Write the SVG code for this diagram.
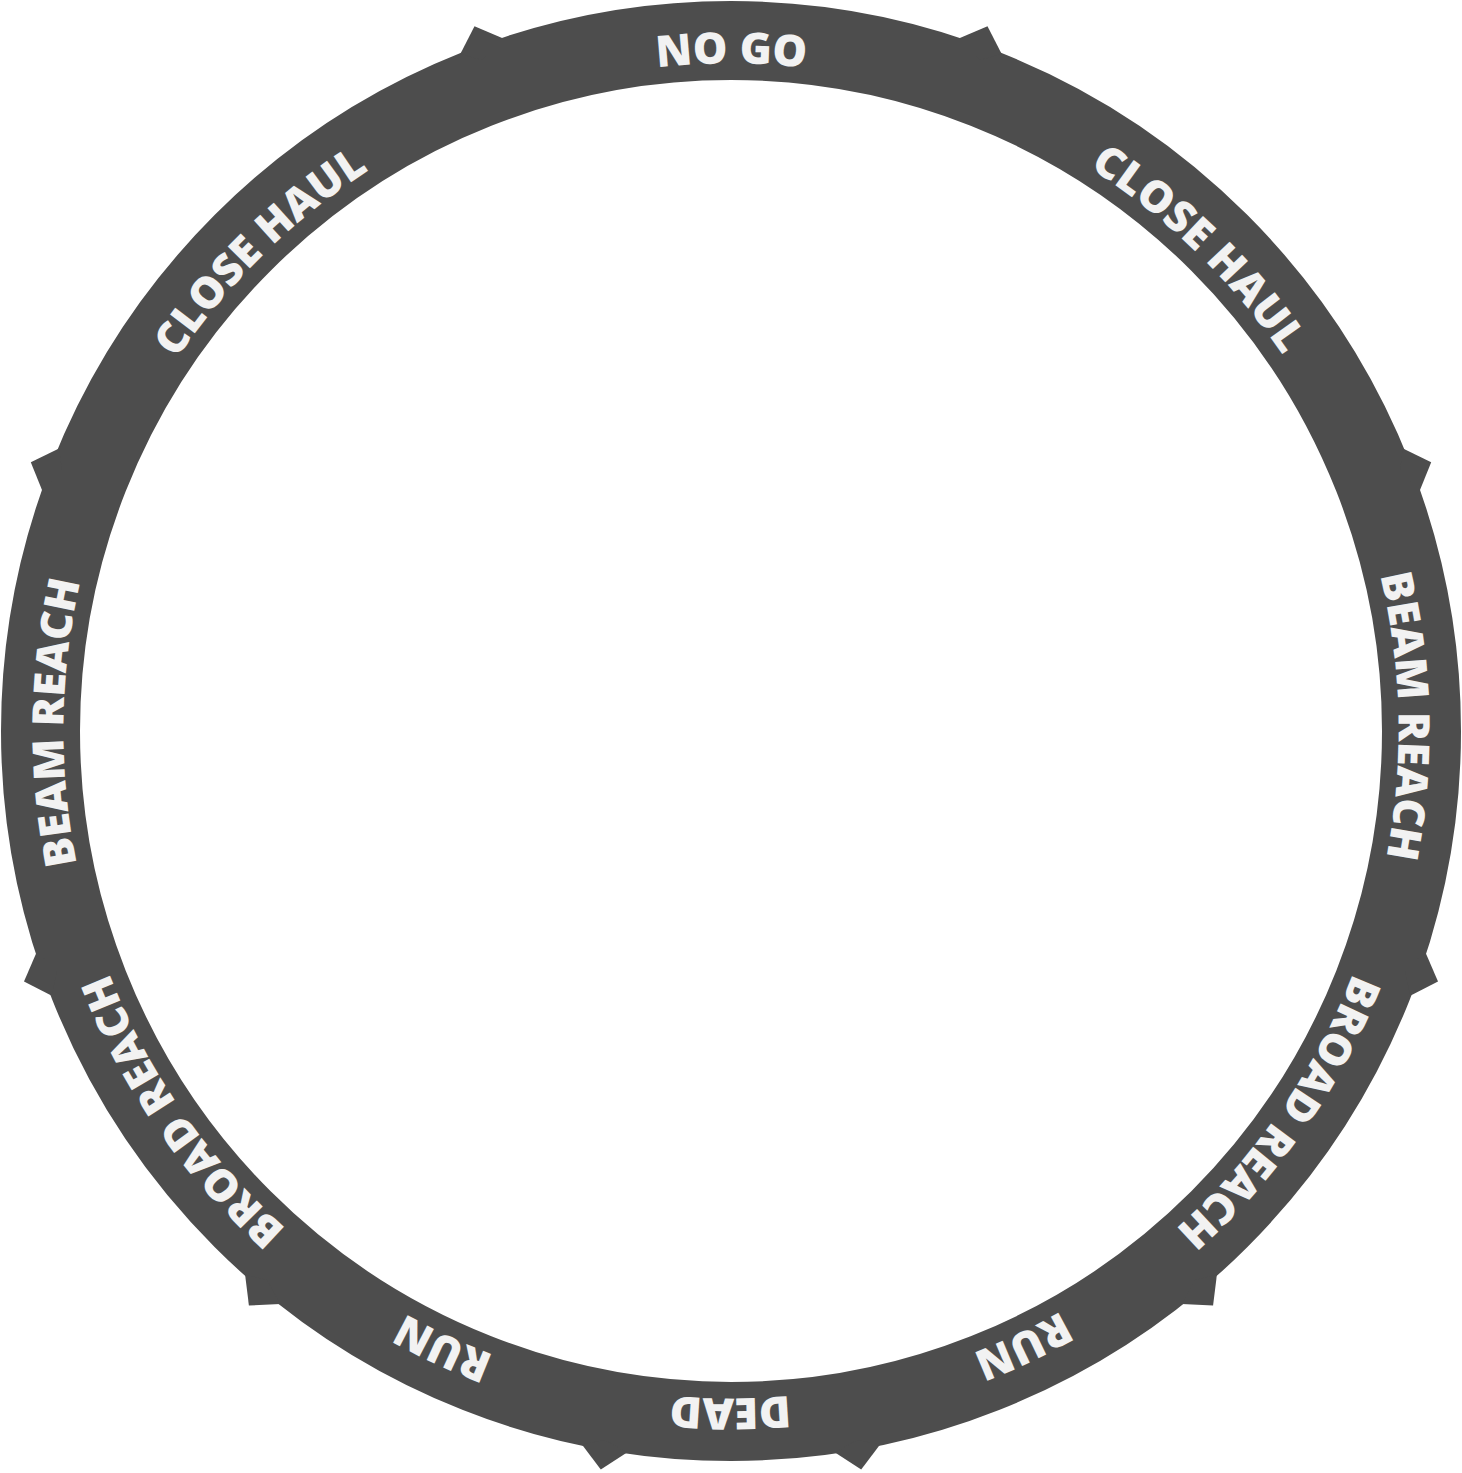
<svg xmlns="http://www.w3.org/2000/svg" xmlns:xlink="http://www.w3.org/1999/xlink" width="1462" height="1473" viewBox="0 0 1462 1473">
  <style>
    .band { fill: none; stroke: #4d4d4d; stroke-width: 79; }
    .tooth { fill: #4d4d4d; stroke: none; }
    .lbl { font-family: "Open Sans", "Liberation Sans", sans-serif; font-weight: 800; font-size: 43.5px; fill: #f2f2f2; text-anchor: middle; }
  </style>
  <defs>
    <path id="tp" d="M 731 63.5 A 667.5 667.5 0 0 1 731 1398.5 A 667.5 667.5 0 0 1 731 63.5 A 667.5 667.5 0 0 1 731 1398.5 A 667.5 667.5 0 0 1 731 63.5"/>
  </defs>
  <rect width="1462" height="1473" fill="#ffffff"/>
  <g id="ring">
    <circle class="band" cx="731" cy="731" r="690.5"/>
  </g>
  <g id="markers">
    <polygon class="tooth" points="958.7,38.5 987.5,26.2 1001.7,54.1 980,60"/>
    <polygon class="tooth" points="503.3,38.5 474.5,26.2 460.3,54.1 482,60"/>
    <polygon class="tooth" points="1403,448.5 1431.2,462.2 1419.5,491.3 1400,470"/>
    <polygon class="tooth" points="59,448.5 30.8,462.2 42.5,491.3 62,470"/>
    <polygon class="tooth" points="1425.5,952.6 1438,981.4 1410.2,995.8 1405,970"/>
    <polygon class="tooth" points="36.5,952.6 24,981.4 51.8,995.8 57,970"/>
    <polygon class="tooth" points="1216.9,1274.5 1213.1,1305.5 1181.8,1303.9 1195,1280"/>
    <polygon class="tooth" points="245.1,1274.5 248.9,1305.5 280.2,1303.9 267,1280"/>
    <polygon class="tooth" points="880.1,1444.6 861.2,1469.6 835,1452.6 857,1440"/>
    <polygon class="tooth" points="581.9,1444.6 600.8,1469.6 627,1452.6 605,1440"/>
  </g>
  <g id="label-no-go"><text class="lbl"><textPath xlink:href="#tp" href="#tp" startOffset="4194.1">NO GO</textPath></text></g>
  <g id="label-close-haul-r"><text class="lbl"><textPath xlink:href="#tp" href="#tp" startOffset="4707.5">CLOSE HAUL</textPath></text></g>
  <g id="label-beam-reach-r"><text class="lbl"><textPath xlink:href="#tp" href="#tp" startOffset="5227.2">BEAM REACH</textPath></text></g>
  <g id="label-broad-reach-r"><text class="lbl"><textPath xlink:href="#tp" href="#tp" startOffset="5647.3">BROAD REACH</textPath></text></g>
  <g id="label-run-r"><text class="lbl"><textPath xlink:href="#tp" href="#tp" startOffset="5994.3">RUN</textPath></text></g>
  <g id="label-dead"><text class="lbl"><textPath xlink:href="#tp" href="#tp" startOffset="6291.1">DEAD</textPath></text></g>
  <g id="label-run-l"><text class="lbl"><textPath xlink:href="#tp" href="#tp" startOffset="2388.3">RUN</textPath></text></g>
  <g id="label-broad-reach-l"><text class="lbl"><textPath xlink:href="#tp" href="#tp" startOffset="2740.6">BROAD REACH</textPath></text></g>
  <g id="label-beam-reach-l"><text class="lbl"><textPath xlink:href="#tp" href="#tp" startOffset="3153.7">BEAM REACH</textPath></text></g>
  <g id="label-close-haul-l"><text class="lbl"><textPath xlink:href="#tp" href="#tp" startOffset="3675.5">CLOSE HAUL</textPath></text></g>
</svg>
